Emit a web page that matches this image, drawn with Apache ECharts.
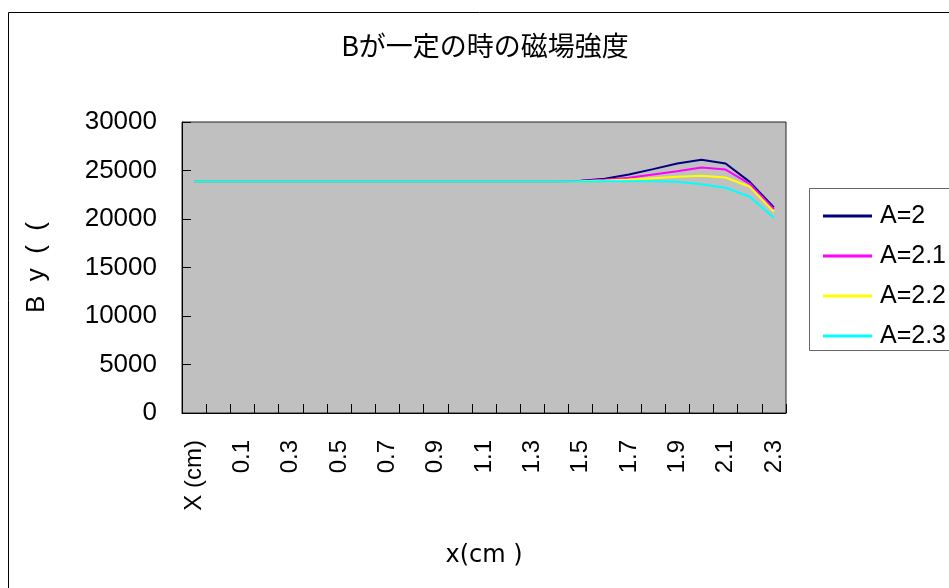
<!DOCTYPE html>
<html>
<head>
<meta charset="utf-8">
<script src="https://cdn.jsdelivr.net/npm/echarts@6/dist/echarts.min.js"></script>
<style>html,body{margin:0;padding:0;background:#fff;}#c{width:949px;height:588px;}</style>
</head>
<body>
<div id="c"></div>
<script>
var categories = ["X (cm)", "0", "0.1", "0.2", "0.3", "0.4", "0.5", "0.6", "0.7", "0.8", "0.9", "1", "1.1", "1.2", "1.3", "1.4", "1.5", "1.6", "1.7", "1.8", "1.9", "2", "2.1", "2.2", "2.3"];
var seriesNames = ["A=2", "A=2.1", "A=2.2", "A=2.3"];
var valuesA20 = [23870, 23870, 23870, 23870, 23870, 23870, 23870, 23870, 23870, 23870, 23870, 23870, 23870, 23870, 23870, 23870, 23950, 24140, 24590, 25140, 25720, 26100, 25720, 23830, 21200];
var valuesA21 = [23870, 23870, 23870, 23870, 23870, 23870, 23870, 23870, 23870, 23870, 23870, 23870, 23870, 23870, 23870, 23870, 23920, 24050, 24250, 24590, 24930, 25310, 25100, 23630, 21020];
var valuesA22 = [23870, 23870, 23870, 23870, 23870, 23870, 23870, 23870, 23870, 23870, 23870, 23870, 23870, 23870, 23870, 23870, 23900, 23960, 24070, 24210, 24350, 24450, 24280, 23320, 20750];
var valuesA23 = [23870, 23870, 23870, 23870, 23870, 23870, 23870, 23870, 23870, 23870, 23870, 23870, 23870, 23870, 23870, 23870, 23870, 23880, 23890, 23890, 23830, 23590, 23220, 22290, 20130];
var colors = ["#000080", "#FF00FF", "#FFFF00", "#00FFFF"];
var titleText = "Bが一定の時の磁場強度";
var xName = "x(cm )";
var yName = "B  y  (  (";

var chart = echarts.init(document.getElementById('c'), null, {renderer: 'canvas'});
var font = '"Liberation Sans", Arial, sans-serif';
var allValues = [valuesA20, valuesA21, valuesA22, valuesA23];
var series = seriesNames.map(function (n, i) {
  return {
    name: n, type: 'line', data: allValues[i], symbol: 'none',
    lineStyle: {color: colors[i], width: 2}, itemStyle: {color: colors[i]}
  };
});
chart.setOption({
  animation: false,
  backgroundColor: '#fff',
  textStyle: {fontFamily: font},
  graphic: [
    {type: 'rect', z: -10, shape: {x: 8.5, y: 12.5, width: 1000, height: 1000}, style: {fill: '#fff', stroke: '#000', lineWidth: 1}},
    {type: 'rect', z: 1, shape: {x: 809.5, y: 188.5, width: 200, height: 162}, style: {fill: '#fff', stroke: '#666', lineWidth: 1}},
    {type: 'text', z: 5, x: 485, y: 46, style: {text: titleText, font: '27px "Noto Sans CJK JP", sans-serif', fill: '#000', align: 'center', verticalAlign: 'middle'}}
  ],
  grid: {left: 182, right: 163, top: 122, bottom: 175, show: true, backgroundColor: '#C0C0C0', borderColor: '#222', borderWidth: 1},
  legend: {
    orient: 'vertical', left: 818, top: 197, z: 10,
    itemWidth: 49, itemHeight: 3, itemGap: 12, icon: 'rect',
    textStyle: {fontSize: 25, color: '#000', fontFamily: font, lineHeight: 28, padding: [0, 0, 0, 3]},
    data: seriesNames
  },
  xAxis: {
    type: 'category', data: categories, boundaryGap: true,
    name: xName, nameLocation: 'middle', nameGap: 131,
    nameTextStyle: {fontSize: 24, color: '#000', fontFamily: '"DejaVu Sans", sans-serif'},
    axisLine: {lineStyle: {color: '#000', width: 1}},
    axisTick: {show: true, inside: true, length: 9, interval: 0, lineStyle: {color: '#000'}},
    axisLabel: {interval: 1, rotate: 90, margin: 27, fontSize: 24, color: '#000', fontFamily: font, padding: [0, 0, 10, 0]},
    splitLine: {show: false}
  },
  yAxis: {
    type: 'value', min: 0, max: 30000, interval: 5000,
    name: yName, nameLocation: 'middle', nameGap: 132, nameRotate: 90,
    nameTextStyle: {fontSize: 26, color: '#000', fontFamily: font},
    axisLine: {show: true, lineStyle: {color: '#000', width: 1}},
    axisTick: {show: true, inside: true, length: 9, lineStyle: {color: '#000'}},
    axisLabel: {margin: 25, fontSize: 26, color: '#000', fontFamily: font, formatter: function (v) { return String(v); }},
    splitLine: {show: false}
  },
  series: series
});
</script>
</body>
</html>
